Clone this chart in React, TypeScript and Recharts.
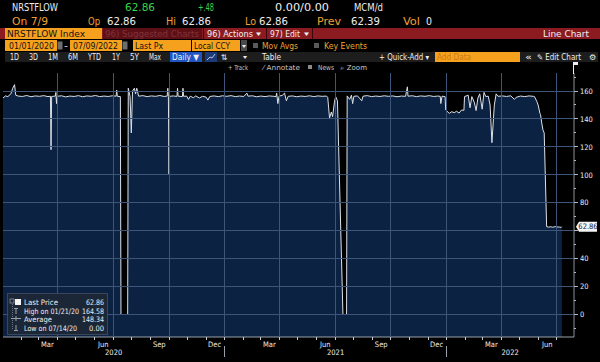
import React from 'react';
import { ComposedChart, Area, XAxis, YAxis } from 'recharts';

// NRSTFLOW Index, daily last price (MCM/d), Jan 2020 - Jul 2022
const dates2020 = [
  '01-02', '01-06', '01-10', '01-15', '01-18', '01-21', '01-23', '01-27',
  '02-03', '02-10', '02-17', '02-24', '03-02', '03-09', '03-16', '03-20',
  '03-21', '03-22', '03-28', '03-29', '03-30', '03-31', '04-07', '04-14',
  '04-21', '04-28', '05-05', '05-12', '05-19', '05-26', '06-02', '06-09',
  '06-16', '06-23', '06-30', '07-06', '07-07', '07-08', '07-13', '07-14',
  '07-25', '07-26', '07-29', '07-31', '08-02', '08-05', '08-07', '08-09',
  '08-12', '08-19', '08-26', '09-02', '09-09', '09-16', '09-23', '09-28',
  '09-29', '09-30', '10-01', '10-02', '10-08', '10-14', '10-15', '10-16',
  '10-23', '10-24', '10-25', '10-30', '11-02', '11-05', '11-10', '11-14',
  '11-20', '11-25', '12-01', '12-04', '12-07', '12-14', '12-21', '12-28',
];
const values2020 = [
  155, 156.5, 156, 158, 162, 164.58, 157, 156.4,
  156.1, 156.8, 155.9, 156.5, 156.2, 156.7, 156.0, 156.3,
  118, 156.1, 156.4, 159, 151, 156.2, 156.6, 155.8,
  156.4, 156.1, 156.7, 155.9, 156.5, 156.2, 156.8, 156.0,
  156.4, 156.1, 156.6, 156.3, 160.7, 156.2, 156.0, 0,
  0, 162, 156, 130, 160, 162, 158, 162,
  156.3, 156.7, 156.0, 156.5, 156.2, 156.8, 156.1, 156.4,
  162, 156, 100, 156.2, 156.5, 156.1, 162, 156.3,
  156.0, 162, 156.2, 156.4, 154, 156.3, 155.2, 156.5,
  155.0, 156.2, 155.6, 153.5, 156.1, 156.5, 156.0, 156.6,
];

const dates2021 = [
  '01-04', '01-11', '01-18', '01-25', '02-01', '02-06', '02-08', '02-15',
  '02-22', '03-01', '03-08', '03-15', '03-22', '03-26', '03-27', '03-29',
  '03-31', '04-05', '04-09', '04-12', '04-15', '04-22', '04-29', '05-06',
  '05-13', '05-20', '05-27', '06-03', '06-10', '06-17', '06-19', '06-22',
  '06-25', '06-27', '06-30', '07-02', '07-05', '07-14', '07-20', '07-21',
  '07-25', '07-28', '07-30', '08-01', '08-07', '08-14', '08-16', '08-23',
  '08-30', '09-06', '09-13', '09-20', '09-27', '10-04', '10-11', '10-18',
  '10-25', '10-28', '10-29', '11-05', '11-12', '11-19', '11-26', '12-03',
  '12-10', '12-17', '12-21', '12-22', '12-24', '12-29', '12-30',
];
const values2021 = [
  156.2, 156.7, 156.0, 156.4, 156.1, 158.5, 156.3, 156.6,
  155.9, 156.4, 156.0, 156.5, 156.2, 156.0, 158.6, 151,
  156.4, 156.8, 158.5, 153, 156.2, 156.5, 155.9, 156.4,
  156.1, 156.6, 156.0, 156.5, 156.2, 156.4, 155.5, 140.7,
  145, 141.6, 152, 156, 153, 0, 0, 156.5,
  154, 157, 151, 156.2, 156.5, 153, 156.3, 156.7,
  156.0, 156.4, 156.1, 156.6, 156.2, 156.5, 155.9, 156.4,
  156.2, 163, 156.3, 156.6, 156.0, 156.5, 156.2, 156.7,
  156.1, 156.4, 156.2, 151, 156.3, 156.0, 146.4,
];

const dates2022 = [
  '01-05', '01-09', '01-13', '01-17', '01-21', '01-25', '01-29', '01-30',
  '02-05', '02-08', '02-11', '02-15', '02-18', '02-21', '02-24', '02-28',
  '03-03', '03-06', '03-10', '03-13', '03-16', '03-20', '03-23', '03-26',
  '04-02', '04-09', '04-16', '04-22', '04-25', '05-02', '05-09', '05-16',
  '05-23', '05-25', '05-29', '05-31', '06-03', '06-04', '06-06', '06-08',
  '06-10', '06-14', '06-17', '06-21', '06-24', '06-28', '07-01', '07-05',
  '07-08', '07-09',
];
const values2022 = [
  144, 145.2, 144.5, 145.5, 144.2, 146.4, 146.2, 156,
  157, 148, 156, 152, 146, 155, 158, 147,
  159, 156, 156.3, 150, 123, 150, 158, 156.2,
  156.5, 156.1, 156.6, 154, 155.5, 156.4, 156.0, 156.5,
  156.2, 156, 152.4, 150, 144, 143, 137, 132,
  130, 62.9, 62.6, 62.8, 62.5, 62.9, 62.7, 62.6,
  62.39, 62.86,
];

const LAST = 62.86;

// axis ticks
const monthTicks = [
  '2020-02-01', '2020-03-01', '2020-04-01', '2020-05-01', '2020-06-01', '2020-07-01',
  '2020-08-01', '2020-09-01', '2020-10-01', '2020-11-01', '2020-12-01', '2021-01-01',
  '2021-02-01', '2021-03-01', '2021-04-01', '2021-05-01', '2021-06-01', '2021-07-01',
  '2021-08-01', '2021-09-01', '2021-10-01', '2021-11-01', '2021-12-01', '2022-01-01',
  '2022-02-01', '2022-03-01', '2022-04-01', '2022-05-01', '2022-06-01', '2022-07-01',
];
const labelTicks = [
  '2020-03-15', '2020-06-15', '2020-09-15', '2020-12-15', '2021-01-01',
  '2021-03-15', '2021-06-15', '2021-09-15', '2021-12-15', '2022-01-01',
  '2022-03-15', '2022-06-15',
];
const yearTicks = ['2020-07-02', '2021-07-02', '2022-04-15'];
const gridValues = [0, 20, 40, 60, 80, 100, 120, 140, 160];
const priceTicks = [-10, 0, 10, 20, 30, 40, 50, 60, 70, 80, 90, 100, 110, 120, 130, 140, 150, 160, 170, LAST];
// the last-price tag hides this label
const hiddenLabels = [60];

const MONTHS = ['Jan', 'Feb', 'Mar', 'Apr', 'May', 'Jun', 'Jul', 'Aug', 'Sep', 'Oct', 'Nov', 'Dec'];
const FONT = '"DejaVu Sans Condensed", "DejaVu Sans", sans-serif';
const ORANGE = '#f6a11d';
const ORANGE_TXT = '#f0a032';
const GREEN = '#3ad24e';
const WHITE = '#eeeeee';
// the terminal's dotted grid reads as a faint line at this size
const GRID = '#3d5578';

const MARGIN = { top: 73, right: 0, left: 3, bottom: 2 };

const ts = (d: string) => Date.parse(`${d}T00:00:00Z`);

const rows = [
  ...dates2020.map((d, i) => ({ t: ts(`2020-${d}`), v: values2020[i] })),
  ...dates2021.map((d, i) => ({ t: ts(`2021-${d}`), v: values2021[i] })),
  ...dates2022.map((d, i) => ({ t: ts(`2022-${d}`), v: values2022[i] })),
];

const X_DOMAIN = [ts('2020-01-02'), ts('2022-07-29')];
const Y_DOMAIN = [-16.1, 172.9];

const snap = (p: number) => Math.round(p - 0.5) + 0.5;

// monthly tick marks; quarter starts also carry the vertical grid line
function MonthTick({ x, y, payload }: any) {
  const m = new Date(payload.value).getUTCMonth();
  const sx = snap(x);
  return (
    <g>
      {m % 3 === 0 && <line x1={sx} x2={sx} y1={y} y2={MARGIN.top} stroke={GRID} />}
      <line x1={sx} x2={sx} y1={y} y2={y + 3} stroke="#c8ccd2" />
    </g>
  );
}

function MonthLabel({ x, y, payload }: any) {
  const m = new Date(payload.value).getUTCMonth();
  if (m === 0) {
    return <line x1={snap(x)} x2={snap(x)} y1={y + 6} y2={y + 17} stroke="#9aa0a8" />;
  }
  return (
    <text x={x} y={y + 7} textAnchor="middle" fontSize={7.5} fill={WHITE} fontFamily={FONT}>
      {MONTHS[m]}
    </text>
  );
}

function YearLabel({ x, y, payload }: any) {
  return (
    <text x={x} y={y + 5.5} textAnchor="middle" fontSize={7.5} fill={WHITE} fontFamily={FONT}>
      {new Date(payload.value).getUTCFullYear()}
    </text>
  );
}

// price ticks; the 20-steps also carry the horizontal grid line
function PriceTick({ x, y, payload }: any) {
  const v = payload.value;
  if (v === LAST) {
    return (
      <g>
        <path d={`M${x + 2},${y} L${x + 5},${y - 5} H${x + 23} V${y + 5} H${x + 5} Z`} fill="#f4f4f4" />
        <text x={x + 14} y={y + 2.7} textAnchor="middle" fontSize={7.5} fill="#14243a" fontFamily={FONT}>
          {v.toFixed(2)}
        </text>
      </g>
    );
  }
  const major = gridValues.includes(v);
  const sy = snap(y);
  return (
    <g>
      {major && <line x1={MARGIN.left} x2={x} y1={sy} y2={sy} stroke={GRID} />}
      <line x1={x} x2={x + (major ? 4 : 2)} y1={sy} y2={sy} stroke="#b4b8be" />
      {major && !hiddenLabels.includes(v) && (
        <text x={x + 6} y={y + 2.7} fontSize={7.5} fill={WHITE} fontFamily={FONT}>
          {v}
        </text>
      )}
    </g>
  );
}

// text squeezed to the width it has on the terminal screen
function T({ x, y, w, s = 9, c = WHITE, a, children }: any) {
  return (
    <text
      x={x}
      y={y}
      fontSize={s}
      fill={c}
      textLength={w}
      lengthAdjust="spacingAndGlyphs"
      textAnchor={a}
      fontFamily={FONT}
    >
      {children}
    </text>
  );
}

function Header() {
  return (
    <svg width={600} height={362} style={{ position: 'absolute', left: 0, top: 0, pointerEvents: 'none' }}>
      {/* quote lines */}
      <T x={12} y={11} w={46} s={10}>NRSTFLOW</T>
      <T x={125} y={11} w={30} s={10} c={GREEN}>62.86</T>
      <T x={198} y={11} w={16} s={10} c={GREEN}>+.48</T>
      <T x={275} y={11} w={54} s={10}>0.00/0.00</T>
      <T x={354} y={11} w={29} s={10}>MCM/d</T>

      <T x={12} y={25} w={36} s={10} c={ORANGE_TXT}>On 7/9</T>
      <T x={88} y={25} w={12} s={10} c={ORANGE_TXT}>Op</T>
      <T x={107} y={25} w={29} s={10}>62.86</T>
      <T x={166} y={25} w={10} s={10} c={ORANGE_TXT}>Hi</T>
      <T x={182} y={25} w={29} s={10}>62.86</T>
      <T x={245} y={25} w={11} s={10} c={ORANGE_TXT}>Lo</T>
      <T x={259} y={25} w={29} s={10}>62.86</T>
      <T x={317} y={25} w={24} s={10} c={ORANGE_TXT}>Prev</T>
      <T x={351} y={25} w={29} s={10}>62.39</T>
      <T x={403} y={25} w={17} s={10} c={ORANGE_TXT}>Vol</T>
      <T x={426} y={25} w={6} s={10}>0</T>

      {/* red menu bar */}
      <rect x={0} y={28} width={600} height={11} fill="#8b1b21" />
      <rect x={5} y={28} width={97} height={11} fill={ORANGE} />
      <T x={7} y={37} w={78} s={9.5} c="#111">NRSTFLOW Index</T>
      <rect x={103} y={28} width={99} height={11} fill="#5c1016" />
      <T x={105} y={37} w={94} s={9.5} c="#83313a">96) Suggested Charts</T>
      <line x1={203.5} x2={203.5} y1={28} y2={39} stroke="#3a080b" />
      <T x={207} y={37} w={46} s={9.5}>96) Actions</T>
      <T x={256} y={36} w={5} s={7}>▾</T>
      <line x1={266.5} x2={266.5} y1={28} y2={39} stroke="#3a080b" />
      <T x={270} y={37} w={30} s={9.5}>97) Edit</T>
      <T x={304} y={36} w={5} s={7}>▾</T>
      <line x1={312.5} x2={312.5} y1={28} y2={39} stroke="#3a080b" />
      <T x={543} y={37} w={46} s={9.5}>Line Chart</T>

      {/* date / field row */}
      <rect x={5} y={40} width={52} height={11} fill={ORANGE} />
      <T x={9} y={48.5} w={45} s={8} c="#111">01/01/2020</T>
      <rect x={57.5} y={41.5} width={5} height={8} fill="#6d6d6d" />
      <T x={64} y={48.5} w={4} s={8}>-</T>
      <rect x={70} y={40} width={52} height={11} fill={ORANGE} />
      <T x={73} y={48.5} w={45} s={8} c="#111">07/09/2022</T>
      <rect x={122.5} y={41.5} width={5} height={8} fill="#6d6d6d" />
      <rect x={133} y={40} width={58} height={11} fill={ORANGE} />
      <T x={135} y={48.5} w={28} s={8} c="#111">Last Px</T>
      <rect x={192} y={40} width={48} height={11} fill={ORANGE} />
      <T x={194} y={48.5} w={36} s={8} c="#111">Local CCY</T>
      <rect x={241} y={40} width={6} height={11} fill="#4a4a4a" />
      <T x={242} y={47.5} w={4} s={6}>▾</T>
      <rect x={253} y={43} width={5} height={5} fill="#5a5a5a" />
      <T x={262} y={48.5} w={36} s={8} c={ORANGE_TXT}>Mov Avgs</T>
      <rect x={314} y={43} width={5} height={5} fill="#5a5a5a" />
      <T x={324} y={48.5} w={43} s={8} c={ORANGE_TXT}>Key Events</T>

      {/* period toolbar */}
      <rect x={5} y={52} width={593} height={10} fill="#1d1d1d" />
      <T x={10} y={60} w={9} s={8}>1D</T>
      <T x={29} y={60} w={9} s={8}>3D</T>
      <T x={48} y={60} w={10} s={8}>1M</T>
      <T x={68} y={60} w={10} s={8}>6M</T>
      <T x={88} y={60} w={13} s={8}>YTD</T>
      <T x={112} y={60} w={8} s={8}>1Y</T>
      <T x={130} y={60} w={9} s={8}>5Y</T>
      <T x={149} y={60} w={12} s={8}>Max</T>
      <rect x={170} y={52} width={32} height={10} fill="#2155c2" />
      <T x={172} y={60} w={27} s={8}>Daily ▼</T>
      <rect x={205} y={52} width={12} height={10} fill="#1c3a7a" />
      <polyline points="207,60 210,57 212,58 215,54" fill="none" stroke="#dfe6f5" strokeWidth={0.8} />
      <T x={221} y={60} w={7} s={8}>⇅</T>
      <T x={243} y={59} w={4} s={6}>▾</T>
      <T x={262} y={60} w={19} s={8}>Table</T>
      <T x={379} y={60} w={50} s={8}>+ Quick-Add ▾</T>
      <rect x={435} y={52} width={85} height={10} fill={ORANGE} />
      <T x={437} y={60} w={34} s={8} c="#c57c18">Add Data</T>
      <T x={525} y={60} w={7} s={8}>«</T>
      <T x={537} y={60} w={44} s={8}>✎ Edit Chart</T>
      <T x={589} y={60} w={7} s={8}>⚙</T>

      {/* chart tools */}
      <T x={228} y={70} w={20} s={7} c="#c4c4c4">+ Track</T>
      <T x={263} y={70} w={37} s={7} c="#c4c4c4">⁄ Annotate</T>
      <rect x={308} y={65} width={4} height={4} fill="#8a8a8a" />
      <T x={318} y={70} w={16} s={7} c="#c4c4c4">News</T>
      <T x={340} y={70} w={27} s={7} c="#c4c4c4">⌕ Zoom</T>
      <line x1={573.5} x2={573.5} y1={62} y2={74} stroke="#f0f0f0" />
      <rect x={574} y={62} width={4} height={3} fill="#f0f0f0" />

      {/* statistics legend */}
      <rect x={7.5} y={293.5} width={100} height={41} fill="#1b2637" stroke="#3b4658" />
      <line x1={12.5} x2={12.5} y1={304} y2={330} stroke="#6b7482" strokeDasharray="1 1" />
      <rect x={10} y={299} width={4} height={4} fill="none" stroke="#8a919c" strokeWidth={0.8} />
      <rect x={15} y={299} width={6} height={6} fill="#f4f4f4" />
      <line x1={14} x2={18} y1={308.5} y2={308.5} stroke="#9aa1ab" />
      <line x1={16} x2={16} y1={308.5} y2={314} stroke="#9aa1ab" />
      <line x1={11} x2={21} y1={318.5} y2={318.5} stroke="#9aa1ab" />
      <line x1={16} x2={16} y1={316} y2={321} stroke="#9aa1ab" />
      <line x1={16} x2={16} y1={325} y2={330.5} stroke="#9aa1ab" />
      <line x1={14} x2={18} y1={330.5} y2={330.5} stroke="#9aa1ab" />
      <T x={24} y={305} w={34} s={7.5}>Last Price</T>
      <T x={104} y={305} w={18} s={7.5} a="end">62.86</T>
      <T x={24} y={313.5} w={55} s={7.5}>High on 01/21/20</T>
      <T x={104} y={313.5} w={22} s={7.5} a="end">164.58</T>
      <T x={24} y={322} w={28} s={7.5}>Average</T>
      <T x={104} y={322} w={22} s={7.5} a="end">148.34</T>
      <T x={24} y={330.5} w={53} s={7.5}>Low on 07/14/20</T>
      <T x={104} y={330.5} w={15} s={7.5} a="end">0.00</T>
    </svg>
  );
}

export default function App() {
  return (
    <div style={{ position: 'absolute', left: 0, top: 0, width: 600, height: 362, background: '#000', overflow: 'hidden' }}>
      <ComposedChart
        width={600}
        height={362}
        data={rows}
        margin={MARGIN}
        style={{ position: 'absolute', left: 0, top: 0 }}
      >
        <Area
          type="linear"
          dataKey="v"
          baseValue="dataMin"
          stroke="#dde1e6"
          strokeWidth={1}
          fill="#0b2243"
          fillOpacity={1}
          dot={false}
          activeDot={false}
          isAnimationActive={false}
        />
        <XAxis
          dataKey="t"
          type="number"
          domain={X_DOMAIN}
          allowDataOverflow
          ticks={monthTicks.map(ts)}
          interval={0}
          tick={<MonthTick />}
          tickSize={0}
          tickMargin={0}
          tickLine={false}
          height={3}
          axisLine={{ stroke: '#9aa0a8' }}
        />
        <XAxis
          xAxisId="m"
          dataKey="t"
          type="number"
          domain={X_DOMAIN}
          allowDataOverflow
          ticks={labelTicks.map(ts)}
          interval={0}
          tick={<MonthLabel />}
          tickSize={0}
          tickMargin={0}
          tickLine={false}
          axisLine={false}
          height={9}
        />
        <XAxis
          xAxisId="y"
          dataKey="t"
          type="number"
          domain={X_DOMAIN}
          allowDataOverflow
          ticks={yearTicks.map(ts)}
          interval={0}
          tick={<YearLabel />}
          tickSize={0}
          tickMargin={0}
          tickLine={false}
          axisLine={false}
          height={11}
        />
        <YAxis
          orientation="right"
          type="number"
          domain={Y_DOMAIN}
          allowDataOverflow
          ticks={priceTicks}
          interval={0}
          tick={<PriceTick />}
          tickSize={0}
          tickMargin={0}
          tickLine={false}
          axisLine={{ stroke: '#8c9198' }}
          width={26}
        />
      </ComposedChart>
      <Header />
    </div>
  );
}
